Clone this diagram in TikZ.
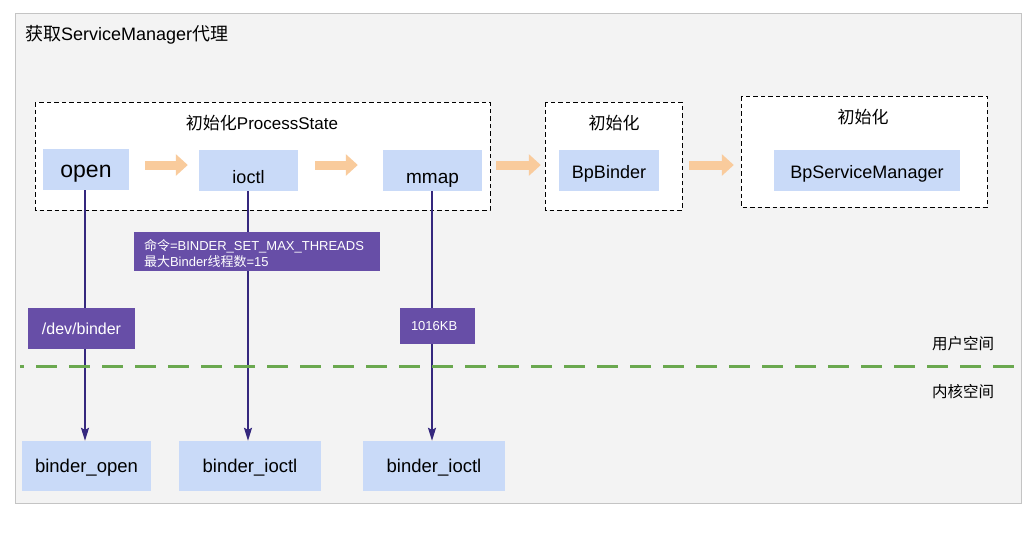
\documentclass[tikz,border=0pt]{standalone}
\usepackage{fontspec}
\setmainfont{Liberation Sans}
\newfontfamily\cjk{Noto Sans CJK SC}
\usetikzlibrary{arrows.meta}
\definecolor{panelbg}{HTML}{F3F3F3}
\definecolor{panelborder}{HTML}{C4C4C4}
\definecolor{lblue}{HTML}{C9DAF8}
\definecolor{purp}{HTML}{674EA7}
\definecolor{orng}{HTML}{F9CB9C}
\definecolor{grn}{HTML}{6AA84F}
\definecolor{navy}{HTML}{35287E}
\newcommand{\fs}[1]{\fontsize{#1}{#1}\selectfont}
\begin{document}
\begin{tikzpicture}[x=1pt,y=-1pt,
  bluebox/.style={fill=lblue, inner sep=0pt, anchor=center, text depth=0pt},
  grpbox/.style={draw=black, fill=white, line width=0.8pt, dash pattern=on 4.5pt off 3pt},
  lblbox/.style={fill=purp, text=white, inner sep=0pt},
  flow/.style={draw=orng, line width=9pt, -{Triangle[length=12pt,width=21pt]}},
  call/.style={draw=navy, line width=1.4pt, -{Stealth[length=13pt,width=8pt,inset=2pt]}},
  plain/.style={inner sep=0pt}]
\path[use as bounding box] (0,0) rectangle (1033,550);
% panel
\draw[fill=panelbg, draw=panelborder, line width=0.8pt] (15.5,13.5) rectangle (1021,503);
\node[plain, anchor=west, font=\fs{18}] (title) at (25,35) {{\cjk 获取}ServiceManager{\cjk 代理}};
% dashed groups
\draw[grpbox] (35,102) rectangle (490,210);
\draw[grpbox] (545,102) rectangle (682,210);
\draw[grpbox] (741,96) rectangle (987,207);
\node[plain, font=\fs{17}] (g1) at (262,123) {{\cjk 初始化}ProcessState};
\node[plain, font=\fs{17}] (g2) at (614,123) {\cjk 初始化};
\node[plain, font=\fs{17}] (g3) at (863,117) {\cjk 初始化};
% top nodes
\node[bluebox, minimum width=86pt, minimum height=41pt, font=\fs{23}, text height=15pt] (open) at (86,169.5) {open};
\node[bluebox, minimum width=99pt, minimum height=41pt, font=\fs{18}, text height=26pt] (ioctl) at (248.5,170.5) {ioctl};
\node[bluebox, minimum width=99pt, minimum height=41pt, font=\fs{19}, text height=26pt] (mmap) at (432.5,170.5) {mmap};
\node[bluebox, minimum width=100pt, minimum height=41pt, font=\fs{18}, text height=16pt] (bpb) at (609,170.5) {BpBinder};
\node[bluebox, minimum width=186pt, minimum height=41pt, font=\fs{18}, text height=16pt] (bpsm) at (867,170.5) {BpServiceManager};
% orange flow arrows
\draw[flow, shorten <=16pt, shorten >=11pt] (open.east |- 0,165) -- (ioctl.west |- 0,165);
\draw[flow, shorten <=17pt, shorten >=25pt] (ioctl.east |- 0,165) -- (mmap.west |- 0,165);
\draw[flow, shorten <=14pt, shorten >=18pt] (mmap.east |- 0,165) -- (bpb.west |- 0,165);
\draw[flow, shorten <=30pt, shorten >=40pt] (bpb.east |- 0,165) -- (bpsm.west |- 0,165);
% bottom nodes
\node[bluebox, minimum width=129pt, minimum height=50pt, font=\fs{18.5}, text height=13pt] (bopen) at (86.5,466) {binder\_open};
\node[bluebox, minimum width=142pt, minimum height=50pt, font=\fs{18.5}, text height=13pt] (bioctl) at (250,466) {binder\_ioctl};
\node[bluebox, minimum width=142pt, minimum height=50pt, font=\fs{18.5}, text height=13pt] (bioctl2) at (434,466) {binder\_ioctl};
% calls
\draw[call] (open.south -| 85,0) -- (bopen.north -| 85,0);
\draw[call] (ioctl.south -| 248,0) -- (bioctl.north -| 248,0);
\draw[call] (mmap.south -| 432,0) -- (bioctl2.north -| 432,0);
% labels
\node[lblbox, minimum width=246pt, minimum height=39pt, font=\fs{13}, align=left, text width=226pt, inner xsep=10pt] (cmd) at (257,251.5) {};
\node[plain, font=\fs{13}, text=white, align=left, text width=226pt] (cmdtext) at (257,253.5) {{\cjk 命令}=BINDER\_SET\_MAX\_THREADS\\[2pt]{\cjk 最大}Binder{\cjk 线程数}=15};
\node[lblbox, minimum width=107pt, minimum height=41pt, font=\fs{16}] (dev) at (81.5,328.5) {/dev/binder};
\node[lblbox, minimum width=75pt, minimum height=36pt, font=\fs{13}, align=left, text width=75pt, inner xsep=0pt] (kb) at (437.5,326) {\hspace*{11pt}1016KB};
% boundary
\coordinate (bl) at (20,366);
\coordinate (br) at (1020,366);
\draw[grn, line width=3pt, dash pattern=on 21pt off 12pt, dash phase=17pt] (bl) -- (br);
\node[plain, font=\fs{15.5}] (user) at (963,344) {\cjk 用户空间};
\node[plain, font=\fs{15.5}] (kern) at (963,392) {\cjk 内核空间};
\end{tikzpicture}
\end{document}
